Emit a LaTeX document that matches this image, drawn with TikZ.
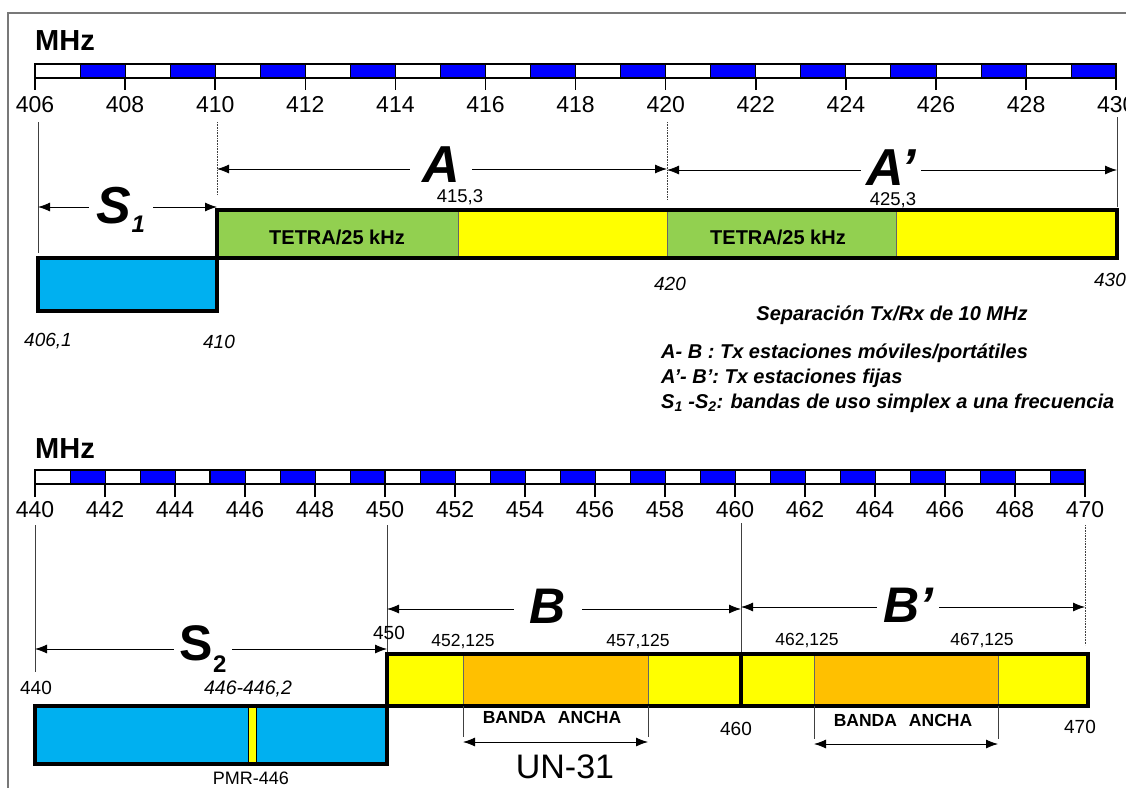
\documentclass[tikz,border=0pt]{standalone}
\usepackage{fontspec}
\setmainfont{Liberation Sans}
\usetikzlibrary{arrows.meta}

\definecolor{scaleblue}{RGB}{0,0,255}
\definecolor{simplexcyan}{RGB}{0,176,240}
\definecolor{tetragreen}{RGB}{146,208,80}
\definecolor{bandyellow}{RGB}{255,255,0}
\definecolor{wideorange}{RGB}{255,192,0}
\definecolor{framegray}{RGB}{120,120,120}

\newcommand\fsz[1]{\fontsize{#1}{#1}\selectfont}

\tikzset{
  tip/.tip={Latex[length=12pt,width=9pt]},
  dim/.style={line width=0.8pt, tip-tip},
  guide/.style={line width=0.6pt, black!75},
  guidedot/.style={guide, densely dotted},
  band/.style={line width=3.5pt, line join=miter},
  divider/.style={line width=0.6pt, black!60},
  cell/.style={line width=1pt},
  ticklbl/.style={font=\fsz{23}, inner sep=0pt, anchor=base},
  unitlbl/.style={font=\fsz{29}\bfseries, inner sep=0pt, anchor=base west},
  biglbl/.style={font=\fsz{52}\bfseries\itshape, fill=white, inner xsep=8pt, inner ysep=0pt, anchor=base},
  bigup/.style={font=\fsz{50}\bfseries, fill=white, inner xsep=6pt, inner ysep=0pt, anchor=base},
  smalllbl/.style={font=\fsz{19}, inner sep=0pt},
  smallit/.style={font=\fsz{19}\itshape, inner sep=0pt},
  bandtxt/.style={font=\fsz{20}\bfseries, inner sep=0pt},
  widetxt/.style={font=\fsz{17.5}\bfseries, inner sep=0pt},
  legend/.style={font=\fsz{20}\bfseries\itshape, inner sep=0pt, anchor=west},
}

\begin{document}
\begin{tikzpicture}[x=1pt,y=-1pt]
\useasboundingbox (0,0) rectangle (1126,787);

% outer frame (top and left edges)
\draw[framegray, line width=1.5pt] (1130,13) -- (8,13) -- (8,790);

% ---------------- 406-430 MHz scale ----------------
\node[unitlbl] (mhzA) at (35,50) {MHz};
\foreach \k in {0,...,23} {
  \pgfmathsetmacro\xa{35+\k*45.05}
  \pgfmathsetmacro\xb{35+(\k+1)*45.05}
  \pgfmathtruncatemacro\oddcell{mod(\k,2)}
  \ifnum\oddcell=1 \def\cellcol{scaleblue}\else\def\cellcol{white}\fi
  \filldraw[cell, fill=\cellcol] (\xa,64) rectangle (\xb,78);
}
\draw[line width=2pt] (35,64) rectangle (1116.2,78);
\foreach \k in {0,...,12} {
  \pgfmathsetmacro\xx{35+2*\k*45.05}
  \pgfmathtruncatemacro\ff{406+2*\k}
  \draw[line width=1.5pt] (\xx,78) -- (\xx,90);
  \node[ticklbl] (ta\ff) at (\xx,112) {\ff};
}

% guide lines
\coordinate (g406t) at (38,122);   \coordinate (g406b) at (38,253);
\coordinate (g410t) at (217,122);  \coordinate (g410b) at (217,195);
\coordinate (g420t) at (667,122);  \coordinate (g420b) at (667,200);
\coordinate (g430t) at (1117,117); \coordinate (g430b) at (1117,207);
\draw[guide] (g406t) -- (g406b);
\draw[guidedot] (g410t) -- (g410b);
\draw[guidedot] (g420t) -- (g420b);
\draw[guide] (g430t) -- (g430b);

% span arrows A, A', S1
\coordinate (aL) at (217,169); \coordinate (aM) at (667,169); \coordinate (aR) at (1117,170);
\coordinate (s1L) at (38,207); \coordinate (s1R) at (217,207);
\draw[dim] (aL) -- (aM);
\draw[dim] (aM |- aR) -- (aR);
\draw[dim] (s1L) -- (s1R);
\node[biglbl, inner xsep=12pt] (labA) at (441,182) {A};
\node[biglbl, inner xsep=5pt] (labAp) at (891,185) {A’};
\node[biglbl] (labS1) at (121,223) {S\raisebox{-9pt}{\fsz{24}1}};

% band 410-430
\fill[tetragreen] (217,210) rectangle (458,258);
\fill[bandyellow] (458,210) rectangle (667,258);
\fill[tetragreen] (667,210) rectangle (896,258);
\fill[bandyellow] (896,210) rectangle (1117,258);
\draw[divider] (458,210) -- (458,258);
\draw[divider] (667,210) -- (667,258);
\draw[divider] (896,210) -- (896,258);
\draw[band] (217,210) rectangle (1117,258);
\node[bandtxt] (tetra1) at (337,237) {TETRA/25 kHz};
\node[bandtxt] (tetra2) at (778,237) {TETRA/25 kHz};

% simplex band S1
\fill[simplexcyan] (38,258) rectangle (217,311);
\draw[band] (38,258) rectangle (217,311);

% frequency marks
\node[smalllbl, font=\fsz{18.5}] (f4153) at (460,197) {415,3};
\node[smalllbl, font=\fsz{18.5}] (f4253) at (893,200) {425,3};
\node[smallit] (f4061) at (48,341) {406,1};
\node[smallit] (f410) at (219,342) {410};
\node[smallit] (f420) at (670,284) {420};
\node[smallit] (f430) at (1110,280) {430};

% notes
\node[font=\fsz{20}\bfseries\itshape, inner sep=0pt] (sep) at (892,315) {Separación Tx/Rx de 10 MHz};
\node[legend] (lg1) at (661,353) {A- B : Tx estaciones móviles/portátiles};
\node[legend] (lg2) at (661,378) {A’- B’: Tx estaciones fijas};
\node[legend] (lg3) at (661,403) {S\textsubscript{1} -S\textsubscript{2}: bandas de uso simplex a una frecuencia};

% ---------------- 440-470 MHz scale ----------------
\node[unitlbl] (mhzB) at (35,458) {MHz};
\foreach \k in {0,...,29} {
  \pgfmathsetmacro\xa{35+\k*35}
  \pgfmathsetmacro\xb{35+(\k+1)*35}
  \pgfmathtruncatemacro\oddcell{mod(\k,2)}
  \ifnum\oddcell=1 \def\cellcol{scaleblue}\else\def\cellcol{white}\fi
  \filldraw[cell, fill=\cellcol] (\xa,470) rectangle (\xb,484);
}
\draw[line width=2pt] (35,470) rectangle (1085,484);
\draw[line width=2.2pt] (210,470) rectangle (385,484);
\foreach \k in {0,...,15} {
  \pgfmathsetmacro\xx{35+2*\k*35}
  \pgfmathtruncatemacro\ff{440+2*\k}
  \draw[line width=1.5pt] (\xx,484) -- (\xx,497);
  \node[ticklbl] (tb\ff) at (\xx,517) {\ff};
}

% guide lines
\coordinate (g440t) at (35,525);   \coordinate (g440b) at (35,672);
\coordinate (g450t) at (387,525);  \coordinate (g450b) at (387,653);
\coordinate (g460t) at (741,523);  \coordinate (g460b) at (741,653);
\coordinate (g470t) at (1085,525); \coordinate (g470b) at (1085,645);
\draw[guide] (g440t) -- (g440b);
\draw[guide] (g450t) -- (g450b);
\draw[guide] (g460t) -- (g460b);
\draw[guidedot] (g470t) -- (g470b);

% span arrows B, B', S2
\coordinate (bL) at (387,609); \coordinate (bM) at (741,609); \coordinate (bR) at (1085,607);
\coordinate (s2L) at (35,649); \coordinate (s2R) at (387,649);
\draw[dim] (bL) -- (bM);
\draw[dim] (bM |- bR) -- (bR);
\draw[dim] (s2L) -- (s2R);
\node[biglbl, font=\fsz{50}\bfseries\itshape, inner xsep=16pt] (labB) at (548,623) {B};
\node[biglbl, font=\fsz{50}\bfseries\itshape, inner xsep=6pt] (labBp) at (908,622) {B’};
\node[bigup] (labS2) at (203,660) {S\raisebox{-12pt}{\fsz{24}2}};

% band 450-470
\fill[bandyellow] (387,654) rectangle (1088,706);
\fill[wideorange] (463,654) rectangle (648,706);
\fill[wideorange] (814,654) rectangle (998,706);
\draw[divider] (463,654) -- (463,706);
\draw[divider] (648,654) -- (648,706);
\draw[divider] (814,654) -- (814,706);
\draw[divider] (998,654) -- (998,706);
\draw[band] (387,654) rectangle (1088,706);
\draw[band] (741,654) -- (741,706);

% simplex band S2 with PMR-446 slot
\fill[simplexcyan] (35,706) rectangle (387,764);
\filldraw[bandyellow, draw=black, line width=1pt] (248,706) rectangle (256,764);
\draw[band] (35,706) rectangle (387,764);

% wideband spans
\coordinate (w1a) at (463,706); \coordinate (w1b) at (648,706);
\coordinate (w1ae) at (463,737); \coordinate (w1be) at (648,737);
\coordinate (w2a) at (814,706); \coordinate (w2b) at (998,706);
\coordinate (w2ae) at (814,739); \coordinate (w2be) at (998,739);
\draw[guide] (w1a) -- (w1ae);
\draw[guide] (w1b) -- (w1be);
\draw[guide] (w2a) -- (w2ae);
\draw[guide] (w2b) -- (w2be);
\draw[dim] ([yshift=-5pt]w1ae) -- ([yshift=-5pt]w1be);
\draw[dim] ([yshift=-5pt]w2ae) -- ([yshift=-5pt]w2be);
\node[widetxt] (wide1) at (552,717) {BANDA\hspace{12pt}ANCHA};
\node[widetxt] (wide2) at (903,720) {BANDA\hspace{12pt}ANCHA};

% frequency marks
\node[smalllbl] (f450) at (389,633) {450};
\node[smalllbl] (f440) at (36,688) {440};
\node[smalllbl, font=\fsz{17.5}] (f452) at (463,641) {452,125};
\node[smalllbl, font=\fsz{17.5}] (f457) at (638,641) {457,125};
\node[smalllbl, font=\fsz{17.5}] (f462) at (807,640) {462,125};
\node[smalllbl, font=\fsz{17.5}] (f467) at (982,640) {467,125};
\node[smalllbl] (f460) at (736,729) {460};
\node[smalllbl] (f470) at (1080,727) {470};
\node[font=\fsz{19.5}\itshape, inner sep=0pt] (fpmr) at (248,689) {446-446,2};
\node[smalllbl, font=\fsz{18}] (pmr) at (251,778) {PMR-446};

% designation
\node[font=\fsz{34}, inner sep=0pt] (un31) at (565,767) {UN-31};
\end{tikzpicture}
\end{document}
